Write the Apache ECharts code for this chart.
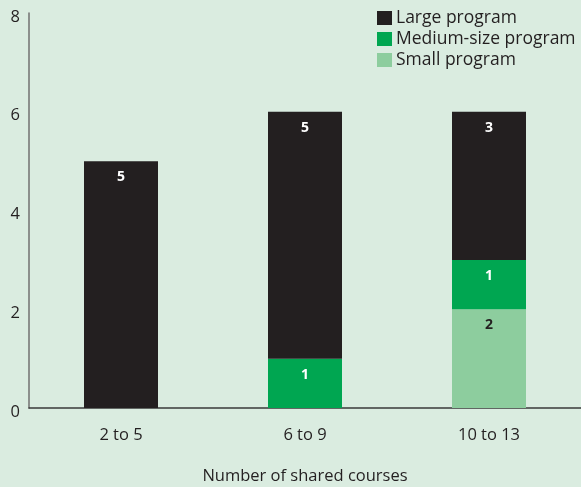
<!DOCTYPE html>
<html><head><meta charset="utf-8">
<script src="https://cdn.jsdelivr.net/npm/echarts@6/dist/echarts.min.js"></script>
<style>html,body{margin:0;padding:0;background:#daece0}#c{width:581px;height:487px}</style>
</head><body><div id="c"></div>
<script>
const categories = ['2 to 5', '6 to 9', '10 to 13'];
const smallProgram = [0, 0, 2];
const mediumProgram = [0, 1, 1];
const largeProgram = [5, 5, 3];
const yTicks = [0, 2, 4, 6, 8];

const font = '"Open Sans", "Noto Sans", sans-serif';
const chart = echarts.init(document.getElementById('c'), null, {renderer: 'canvas'});
function lbl(color) {
  return {
    show: true, position: 'insideTop', distance: 9,
    color: color, fontWeight: 'bold', fontSize: 14, fontFamily: font,
    formatter: p => p.value > 0 ? String(p.value) : ''
  };
}
chart.setOption({
  backgroundColor: '#daece0',
  animation: false,
  grid: {left: 29, right: 0, top: 13, bottom: 79, outerBoundsMode: 'none', containLabel: false},
  legend: {
    left: 377, top: 9, orient: 'vertical', itemWidth: 15, itemHeight: 14, itemGap: 3, padding: 0,
    icon: 'rect', align: 'left',
    textStyle: {fontFamily: font, fontSize: 17.5, color: '#231f20', padding: [0,0,0,-1]},
    data: ['Large program', 'Medium-size program', 'Small program']
  },
  xAxis: {
    type: 'category', data: categories,
    name: 'Number of shared courses', nameLocation: 'middle', nameGap: 60,
    nameTextStyle: {fontFamily: font, fontSize: 16.5, color: '#231f20'},
    axisLine: {lineStyle: {color: '#3a3a3a', width: 1.5}},
    axisTick: {show: false},
    axisLabel: {fontFamily: font, fontSize: 16.5, color: '#231f20', margin: 19}
  },
  yAxis: {
    type: 'value', min: 0, max: 8, interval: 2,
    axisLine: {show: true, lineStyle: {color: '#707070', width: 1.5}},
    axisTick: {show: false},
    splitLine: {show: false},
    axisLabel: {fontFamily: font, fontSize: 16.5, color: '#231f20', margin: 9,
      verticalAlign: 'top', lineHeight: 8,
      formatter: v => yTicks.includes(v) ? String(v) : ''}
  },
  series: [
    {name: 'Small program', type: 'bar', stack: 's', data: smallProgram, barWidth: 74,
      itemStyle: {color: '#8dcd9e'}, label: lbl('#231f20')},
    {name: 'Medium-size program', type: 'bar', stack: 's', data: mediumProgram, barWidth: 74,
      itemStyle: {color: '#00a651'}, label: lbl('#ffffff')},
    {name: 'Large program', type: 'bar', stack: 's', data: largeProgram, barWidth: 74,
      itemStyle: {color: '#231f20'}, label: lbl('#ffffff')}
  ]
});
</script></body></html>
